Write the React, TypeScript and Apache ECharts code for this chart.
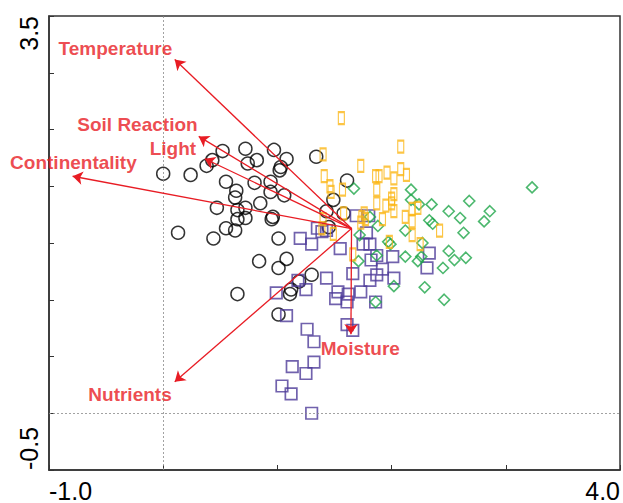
import React, { useEffect, useRef } from "react";
import * as echarts from "echarts";

// ---- data ----
const circles: [number, number][] = [
  [0.0, 2.11], [0.24, 2.1], [0.52, 2.31], [0.72, 2.33], [0.97, 2.32], [1.08, 2.24],
  [0.43, 2.23], [0.38, 2.18], [0.74, 2.2], [0.82, 2.23], [1.02, 2.14], [1.03, 2.17],
  [0.55, 2.04], [0.8, 2.03], [0.94, 2.04], [0.94, 1.95], [0.64, 1.96], [0.63, 1.9],
  [1.06, 1.92], [0.85, 1.85], [0.47, 1.81], [0.65, 1.79], [0.72, 1.81], [0.72, 1.72],
  [0.65, 1.71], [0.96, 1.73], [0.95, 1.71], [0.55, 1.63], [0.63, 1.61], [0.13, 1.59],
  [0.44, 1.54], [1.01, 1.54], [0.84, 1.34], [1.08, 1.36], [1.01, 1.28], [1.3, 1.22],
  [0.65, 1.05], [1.34, 2.26], [1.49, 1.88], [1.43, 1.78], [1.61, 2.05], [1.58, 1.76],
  [1.45, 1.64], [1.19, 1.16], [1.12, 1.09], [1.11, 1.05], [1.01, 0.87],
];

const squares: [number, number][] = [
  [1.2, 1.54], [1.3, 1.49], [1.35, 1.63], [1.39, 1.6], [1.43, 1.61], [1.55, 1.45],
  [1.69, 1.74], [1.8, 1.74], [1.78, 1.59], [1.75, 1.49], [1.81, 1.49], [1.87, 1.39],
  [1.82, 1.35], [2.01, 1.38], [2.33, 1.41], [2.31, 1.28], [1.92, 1.27], [1.87, 1.22],
  [1.81, 1.17], [2.02, 1.19], [1.66, 1.23], [1.43, 1.19], [1.73, 1.07], [1.62, 1.05],
  [1.53, 1.07], [1.51, 1.01], [1.61, 0.98], [1.86, 0.98], [1.18, 1.17], [1.25, 1.09],
  [0.99, 1.06], [1.08, 0.86], [1.26, 0.74], [1.32, 0.63], [1.61, 0.78], [1.66, 0.73],
  [1.32, 0.45], [1.13, 0.41], [1.25, 0.35], [1.04, 0.24], [1.12, 0.17], [1.3, 0.0],
];

const diamonds: [number, number][] = [
  [1.67, 1.98], [2.17, 1.97], [2.17, 1.88], [2.24, 1.84], [2.35, 1.84], [2.68, 1.87],
  [2.5, 1.78], [2.6, 1.72], [2.86, 1.78], [2.81, 1.69], [3.23, 1.99], [2.33, 1.7],
  [2.36, 1.67], [1.88, 1.65], [1.81, 1.73], [1.72, 1.57], [2.12, 1.61], [2.63, 1.59],
  [1.97, 1.51], [1.99, 1.49], [2.27, 1.5], [2.5, 1.43], [1.87, 1.39], [2.12, 1.38],
  [2.23, 1.34], [2.26, 1.38], [2.55, 1.35], [2.65, 1.37], [2.45, 1.28], [1.71, 1.34],
  [2.02, 1.12], [2.29, 1.11], [2.46, 1.0], [1.86, 0.98],
];

const rects: [number, number][] = [
  [1.56, 2.6], [2.08, 2.35], [1.4, 2.28], [1.73, 2.18], [1.41, 2.09], [1.46, 2.0],
  [1.47, 1.95], [1.57, 1.97], [1.86, 2.09], [1.89, 2.09], [1.96, 2.12], [2.02, 2.07],
  [2.08, 2.15], [2.13, 2.1], [1.87, 1.97], [2.02, 1.93], [1.87, 1.85], [1.95, 1.83],
  [2.0, 1.85], [2.0, 1.89], [2.02, 1.78], [2.12, 1.73], [2.18, 1.8], [2.23, 1.81],
  [2.18, 1.69], [2.42, 1.61], [2.25, 1.49], [1.98, 1.51], [1.92, 1.71], [1.74, 1.73],
  [1.76, 1.76], [1.77, 1.71], [1.73, 1.68], [1.58, 1.76], [1.4, 1.71], [1.39, 1.63],
  [1.49, 1.58], [1.66, 1.4], [2.18, 1.57],
];

const arrowOrigin: [number, number] = [1.649, 1.627];
const arrowNames = ["Temperature", "Soil Reaction", "Light", "Continentality", "Nutrients", "Moisture"];
const arrowTips: [number, number][] = [
  [0.101, 3.116], [0.311, 2.439], [0.364, 2.242], [-0.793, 2.088], [0.101, 0.277], [1.644, 0.697],
];
// right-hand end of each arrow label
const labelAnchors: [number, number][] = [
  [0.08, 3.212], [0.302, 2.548], [0.289, 2.33], [-0.231, 2.212], [0.075, 0.168], [2.073, 0.574],
];

const xLabelValues = [-1, 4];
const xLabelTexts = ["-1.0", "4.0"];
const yLabelValues = [-0.5, 3.5];
const yLabelTexts = ["-0.5", "3.5"];

const RED = "#e81c24";
const tickFont = "'Liberation Sans', Arial, sans-serif";

function pick(values: number[], texts: string[], v: number): string {
  const i = values.findIndex((t) => Math.abs(t - v) < 1e-9);
  return i >= 0 ? texts[i] : "";
}

export default function App() {
  const ref = useRef<HTMLDivElement>(null);
  useEffect(() => {
    if (!ref.current) return;
    const chart = echarts.init(ref.current, null, { renderer: "svg" });
    const option: any = {
      animation: false,
      backgroundColor: "#ffffff",
      grid: {
        left: 49, right: 2, top: 16, bottom: 29,
        show: true, borderColor: "#333", borderWidth: 1.5, backgroundColor: "transparent",
      },
      xAxis: {
        type: "value", min: -1, max: 4, interval: 1,
        axisLine: { show: true, onZero: false, lineStyle: { color: "#333", width: 1.5 } },
        axisTick: { show: true, inside: true, length: 5, lineStyle: { color: "#333", width: 1 } },
        splitLine: { show: false },
        axisLabel: {
          show: true, margin: 8, fontSize: 25, color: "#000", fontFamily: tickFont,
          alignMinLabel: "left", alignMaxLabel: "right",
          formatter: (v: number) => pick(xLabelValues, xLabelTexts, v),
        },
      },
      yAxis: {
        type: "value", min: -0.5, max: 3.5, interval: 0.5,
        axisLine: { show: true, onZero: false, lineStyle: { color: "#333", width: 1.5 } },
        axisTick: { show: true, inside: true, length: 5, lineStyle: { color: "#333", width: 1 } },
        splitLine: { show: false },
        axisLabel: {
          show: true, margin: 8, fontSize: 25, color: "#000", fontFamily: tickFont, rotate: 90,
          alignMinLabel: "left", alignMaxLabel: "right",
          formatter: (v: number) => pick(yLabelValues, yLabelTexts, v),
        },
      },
      series: [
        {
          type: "scatter", name: "circles", data: circles, symbol: "circle", symbolSize: 13,
          itemStyle: { color: "rgba(0,0,0,0)", borderColor: "#000", borderWidth: 1.5 },
          markLine: {
            silent: true, symbol: ["none", "none"], label: { show: false },
            lineStyle: { color: "#8a8a8a", type: [2, 2], width: 0.8 },
            data: [{ xAxis: 0 }, { yAxis: 0 }],
          },
          z: 2,
        },
        {
          type: "scatter", name: "squares", data: squares, symbol: "rect", symbolSize: 11.5,
          itemStyle: { color: "rgba(0,0,0,0)", borderColor: "#4e3b99", borderWidth: 1.7 },
          z: 3,
        },
        {
          type: "scatter", name: "diamonds", data: diamonds, symbol: "diamond", symbolSize: 11,
          itemStyle: { color: "rgba(0,0,0,0)", borderColor: "#1fa64a", borderWidth: 1.6 },
          z: 4,
        },
        {
          type: "scatter", name: "rects", data: rects, symbol: "rect", symbolSize: [6, 12],
          itemStyle: { color: "rgba(0,0,0,0)", borderColor: "#fbb616", borderWidth: 1.6 },
          z: 5,
        },
        {
          type: "lines", coordinateSystem: "cartesian2d", z: 6,
          symbol: ["none", "arrow"], symbolSize: 10,
          lineStyle: { color: RED, width: 1.3, opacity: 1 },
          data: arrowTips.map((t, i) => ({ name: arrowNames[i], coords: [arrowOrigin, t] })),
        },
        {
          type: "scatter", name: "labels", z: 7, symbol: "circle", symbolSize: 0.1,
          itemStyle: { color: "rgba(0,0,0,0)" },
          clip: false,
          data: labelAnchors.map((p, i) => ({ name: arrowNames[i], value: p })),
          label: {
            show: true, position: "left", distance: 0, formatter: "{b}",
            color: RED, fontWeight: "bold", fontSize: 19, fontFamily: tickFont,
          },
        },
      ],
    };
    chart.setOption(option);
    return () => chart.dispose();
  }, []);
  return (
    <div
      ref={ref}
      style={{ position: "fixed", left: 0, top: 0, width: 623, height: 503, background: "#fff" }}
    />
  );
}
